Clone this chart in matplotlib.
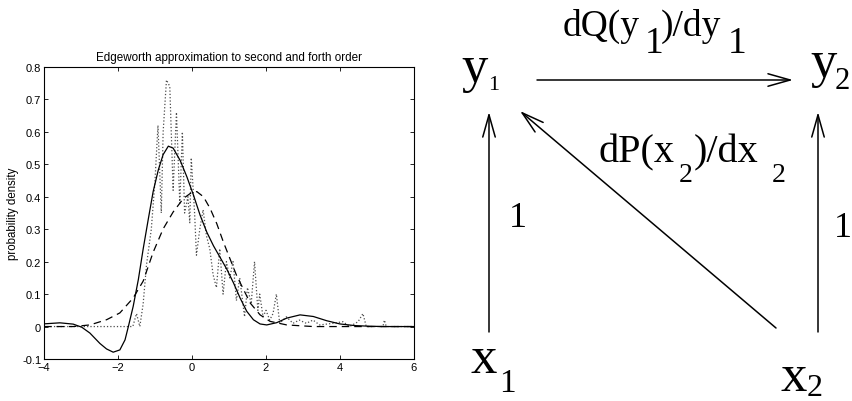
import matplotlib.pyplot as plt
import numpy as np

# fourth order Edgeworth (solid)
x4 = [-4.11, -3.57, -3.21, -2.98, -2.76, -2.49, -2.31, -2.13, -1.95, -1.81, -1.72, -1.59,
      -1.45, -1.32, -1.18, -1.05, -0.91, -0.78, -0.64, -0.51, -0.32, -0.14, 0.04, 0.22,
      0.40, 0.58, 0.76, 0.94, 1.12, 1.30, 1.48, 1.66, 1.84, 2.02, 2.29, 2.56, 2.92,
      3.28, 3.64, 4.0, 4.4, 4.8, 5.2, 6.0]
y4 = [0.0075, 0.0115, 0.0075, -0.002, -0.02, -0.052, -0.069, -0.079, -0.072, -0.041, 0.0, 0.062,
      0.145, 0.239, 0.332, 0.416, 0.483, 0.53, 0.556, 0.55, 0.512, 0.462, 0.405, 0.343,
      0.291, 0.249, 0.213, 0.177, 0.135, 0.088, 0.047, 0.021, 0.008, 0.005, 0.012, 0.026, 0.036,
      0.031, 0.018, 0.008, 0.003, 0.001, 0.0, 0.0]

# second order Edgeworth (dashed)
x2 = [-4.0, -3.21, -2.76, -2.31, -1.95, -1.59, -1.32, -1.05, -0.78, -0.51, -0.23, -0.05,
      0.13, 0.31, 0.49, 0.67, 0.85, 1.03, 1.21, 1.39, 1.57, 1.84, 2.11, 2.56, 3.28, 6.0]
y2 = [0.0, 0.0, 0.005, 0.021, 0.042, 0.088, 0.14, 0.229, 0.301, 0.353, 0.395, 0.41,
      0.416, 0.4, 0.364, 0.317, 0.26, 0.208, 0.156, 0.115, 0.073, 0.036, 0.016, 0.005, 0.0, 0.0]

# empirical density (dotted)
xe = [-4.0, -1.6, -1.5, -1.41, -1.32, -1.23, -1.1, -1.0, -0.92, -0.83, -0.78, -0.69,
      -0.6, -0.51, -0.42, -0.33, -0.26, -0.2, -0.11, -0.06, -0.02, 0.07, 0.12, 0.21,
      0.3, 0.39, 0.48, 0.57, 0.66, 0.75, 0.84, 0.93, 1.02, 1.11, 1.2, 1.29, 1.42, 1.5,
      1.6, 1.69, 1.78, 1.83, 1.92, 2.0, 2.1, 2.19, 2.28, 2.37, 2.55, 2.73, 2.9, 3.09,
      3.27, 3.45, 3.81, 4.08, 4.26, 4.49, 4.62, 4.71, 5.16, 5.2, 5.25, 6.0]
ye = [0.0, 0.0, 0.04, 0.0, 0.07, 0.19, 0.3, 0.45, 0.62, 0.35, 0.6, 0.76,
      0.74, 0.42, 0.66, 0.38, 0.6, 0.35, 0.4, 0.32, 0.52, 0.35, 0.22, 0.3,
      0.36, 0.28, 0.24, 0.16, 0.12, 0.24, 0.1, 0.2, 0.15, 0.2, 0.08, 0.15, 0.03, 0.12,
      0.07, 0.2, 0.05, 0.1, 0.03, 0.05, 0.02, 0.04, 0.1, 0.01, 0.03, 0.01, 0.02, 0.01,
      0.02, 0.005, 0.01, 0.015, 0.0, 0.015, 0.04, 0.0, 0.0, 0.02, 0.0, 0.0]

plt.rcParams['font.family'] = 'Liberation Sans'

W, H = 853, 402
fig = plt.figure(figsize=(W / 100, H / 100), dpi=100)

ax = fig.add_axes([44 / W, (H - 360) / H, 370 / W, 292 / H])
ax.plot(xe, ye, color='0.3', linestyle=':', linewidth=0.9)
ax.plot(x2, y2, color='black', linestyle=(0, (6, 4)), linewidth=0.9)
ax.plot(x4, y4, color='black', linewidth=0.9)
ax.set_xlim(-4, 6)
ax.set_ylim(-0.1, 0.8)
ax.set_xticks([-4, -2, 0, 2, 4, 6])
ax.set_yticks(np.round(np.arange(-0.1, 0.81, 0.1), 1))
ax.set_yticklabels(['-0.1', '0', '0.1', '0.2', '0.3', '0.4', '0.5', '0.6', '0.7', '0.8'])
ax.tick_params(direction='in', top=True, right=True, labelsize=8, length=3, pad=2, width=0.6)
for s in ax.spines.values():
    s.set_linewidth(0.8)
ax.set_title('Edgeworth approximation to second and forth order', fontsize=8.4, pad=5)
ax.set_ylabel('probability density', fontsize=8.3, labelpad=2)

# diagram on the right, drawn in pixel coordinates
d = fig.add_axes([0, 0, 1, 1])
d.set_xlim(0, W)
d.set_ylim(H, 0)
d.axis('off')
d.patch.set_alpha(0)

serif = 'Liberation Serif'
def t(x, y, s, size):
    d.text(x, y, s, fontsize=size, family=serif, ha='left', va='baseline')

t(461, 82, 'y', 38)
t(488, 90, '1', 16)
t(810, 77, 'y', 38)
t(835, 89, '2', 22)
t(471, 373, 'x', 38)
t(499, 392, '1', 24)
t(781, 391, 'x', 38)
t(807, 396, '2', 23)

t(563, 36, 'dQ(y', 27)
t(645, 53, '1', 27)
t(661, 36, ')/dy', 27)
t(728, 53, '1', 27)

t(599, 162, 'dP(x', 29)
t(679, 182, '2', 20)
t(694, 162, ')/dx', 29)
t(772, 182, '2', 20)

t(509, 227, '1', 26)
t(834, 237, '1', 26)

def arrow(x0, y0, x1, y1):
    d.annotate('', xy=(x1, y1), xytext=(x0, y0),
               arrowprops=dict(arrowstyle='->,head_length=1.6,head_width=0.45',
                               lw=1.1, color='black', shrinkA=0, shrinkB=0))

arrow(537, 81, 793, 81)
arrow(489, 333, 489, 113)
arrow(818, 333, 818, 113)
arrow(776, 329, 520, 112)

fig.savefig('out.png', dpi=100)
